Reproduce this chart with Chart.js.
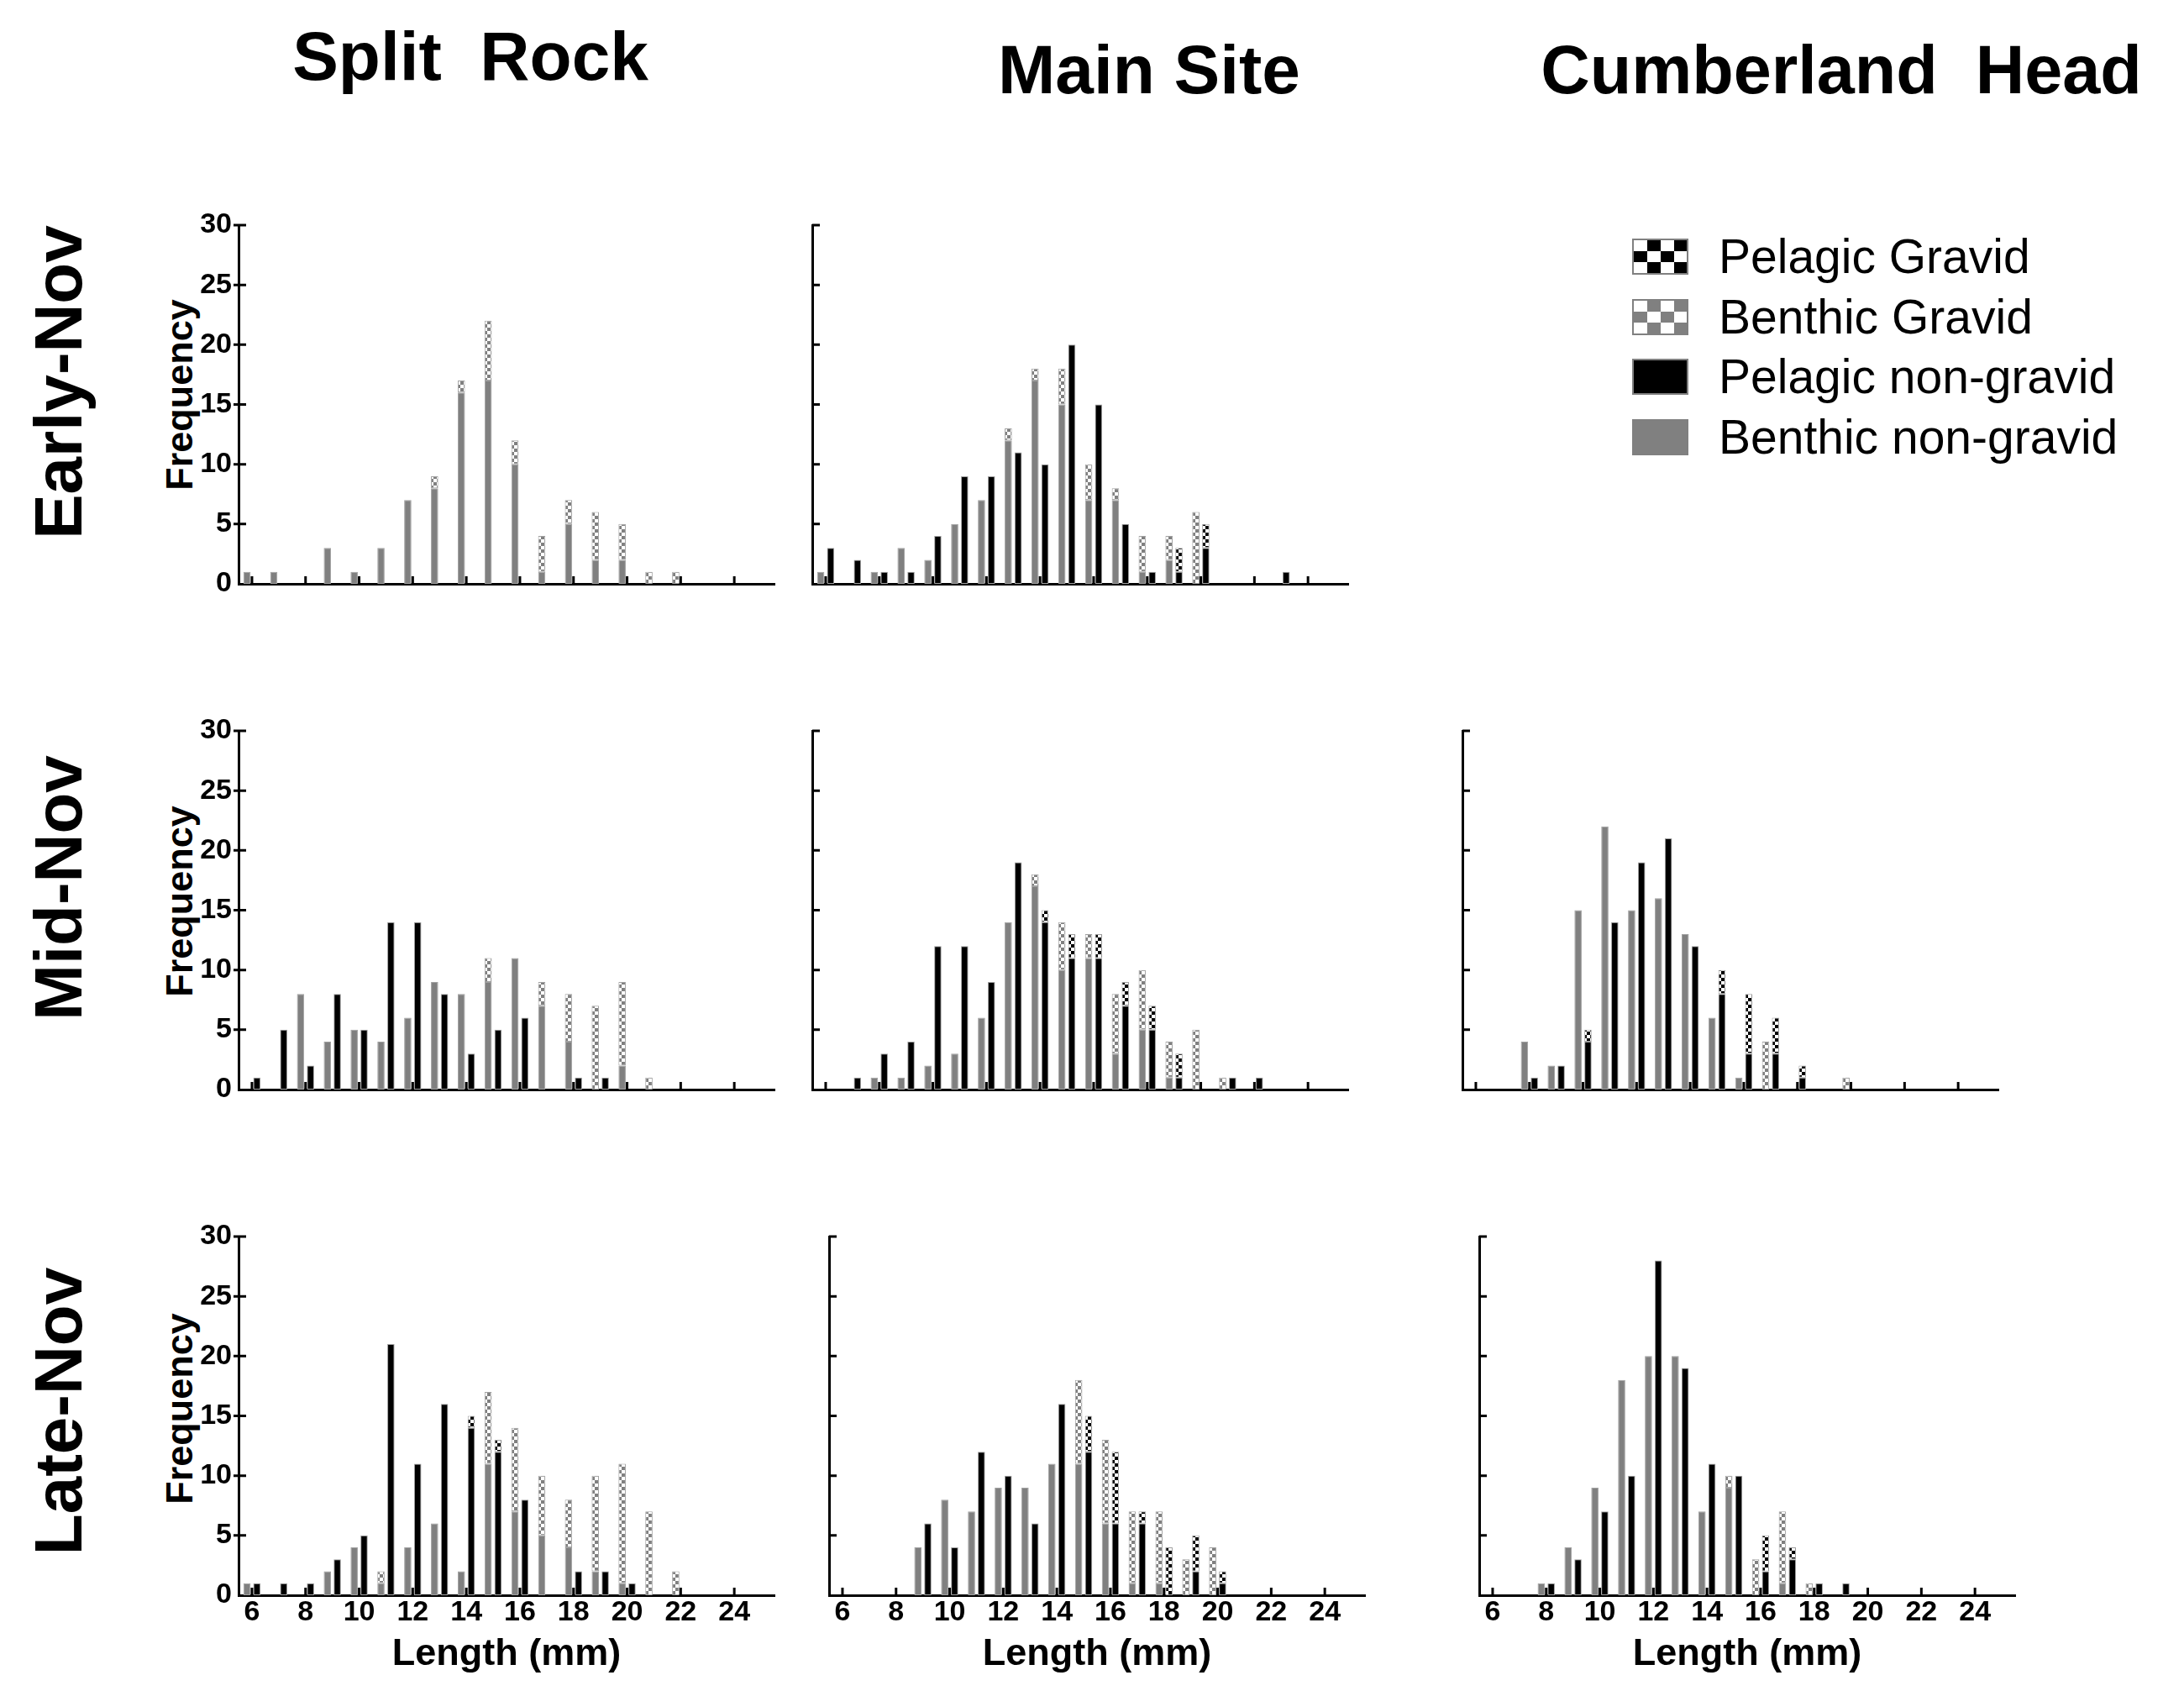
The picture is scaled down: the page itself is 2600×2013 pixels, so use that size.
<!DOCTYPE html>
<html>
<head>
<meta charset="utf-8">
<title>Length frequency by site and date</title>
<script src="https://cdn.jsdelivr.net/npm/chart.js"></script>
<style>
  body { margin:0; background:#fff; width:2600px; height:2013px; position:relative; overflow:hidden;
         font-family:"Liberation Sans", Arial, sans-serif; color:#000; }
  .panel { position:absolute; }
  .txt { position:absolute; transform:translate(-50%,-50%); white-space:pre; font-weight:bold; line-height:1; }
  .rot { transform:translate(-50%,-50%) rotate(-90deg); }
  .leg { position:absolute; left:1943px; height:43px; display:flex; align-items:center; }
  .leg .box { width:63px; height:39px; border:2px solid #808080; margin-right:36px; }
  .leg span { font-size:57px; line-height:1; white-space:nowrap; }
</style>
</head>
<body>

<div class="txt" style="left:560px; top:67px; font-size:82px;">Split  Rock</div>
<div class="txt" style="left:1368px; top:83px; font-size:82px;">Main Site</div>
<div class="txt" style="left:2192px; top:83px; font-size:81px;">Cumberland  Head</div>

<div class="txt rot" style="left:70px; top:455px; font-size:80px;">Early-Nov</div>
<div class="txt rot" style="left:70px; top:1057px; font-size:80px;">Mid-Nov</div>
<div class="txt rot" style="left:70px; top:1680px; font-size:80px;">Late-Nov</div>

<div class="txt rot" style="left:213px; top:470px; font-size:45px;">Frequency</div>
<div class="txt rot" style="left:213px; top:1073px; font-size:45px;">Frequency</div>
<div class="txt rot" style="left:213px; top:1677px; font-size:45px;">Frequency</div>

<div id="legend"></div>

<script>
// length bins (mm)
const lengths = ['6','7','8','9','10','11','12','13','14','15','16','17','18','19','20','21','22','23','24','25'];
const xTickLabels = ['6','8','10','12','14','16','18','20','22','24'];
const yTicks = [0,5,10,15,20,25,30];

// Split Rock
const srE_benNon = [1,1,0,3,1,3,7,8,16,17,10,1,5,2,2,0,0,0,0,0];
const srE_benGrav = [0,0,0,0,0,0,0,1,1,5,2,3,2,4,3,1,1,0,0,0];
const srE_pelNon = [0,0,0,0,0,0,0,0,0,0,0,0,0,0,0,0,0,0,0,0];
const srE_pelGrav = [0,0,0,0,0,0,0,0,0,0,0,0,0,0,0,0,0,0,0,0];

const srM_benNon = [0,0,8,4,5,4,6,9,8,9,11,7,4,0,2,0,0,0,0,0];
const srM_benGrav = [0,0,0,0,0,0,0,0,0,2,0,2,4,7,7,1,0,0,0,0];
const srM_pelNon = [1,5,2,8,5,14,14,8,3,5,6,0,1,1,0,0,0,0,0,0];
const srM_pelGrav = [0,0,0,0,0,0,0,0,0,0,0,0,0,0,0,0,0,0,0,0];

const srL_benNon = [1,0,0,2,4,1,4,6,2,11,7,5,4,2,1,0,0,0,0,0];
const srL_benGrav = [0,0,0,0,0,1,0,0,0,6,7,5,4,8,10,7,2,0,0,0];
const srL_pelNon = [1,1,1,3,5,21,11,16,14,12,8,0,2,2,1,0,0,0,0,0];
const srL_pelGrav = [0,0,0,0,0,0,0,0,1,1,0,0,0,0,0,0,0,0,0,0];

// Main Site
const msE_benNon = [1,0,1,3,2,5,7,12,17,15,7,7,1,2,0,0,0,0,0,0];
const msE_benGrav = [0,0,0,0,0,0,0,1,1,3,3,1,3,2,6,0,0,0,0,0];
const msE_pelNon = [3,2,1,1,4,9,9,11,10,20,15,5,1,1,3,0,0,1,0,0];
const msE_pelGrav = [0,0,0,0,0,0,0,0,0,0,0,0,0,2,2,0,0,0,0,0];

const msM_benNon = [0,0,1,1,2,3,6,14,17,10,11,3,5,1,0,0,0,0,0,0];
const msM_benGrav = [0,0,0,0,0,0,0,0,1,4,2,5,5,3,5,1,0,0,0,0];
const msM_pelNon = [0,1,3,4,12,12,9,19,14,11,11,7,5,1,0,1,1,0,0,0];
const msM_pelGrav = [0,0,0,0,0,0,0,0,1,2,2,2,2,2,0,0,0,0,0,0];

const msL_benNon = [0,0,0,4,8,7,9,9,11,11,6,1,1,0,0,0,0,0,0,0];
const msL_benGrav = [0,0,0,0,0,0,0,0,0,7,7,6,6,3,4,0,0,0,0,0];
const msL_pelNon = [0,0,0,6,4,12,10,6,16,12,6,6,0,2,1,0,0,0,0,0];
const msL_pelGrav = [0,0,0,0,0,0,0,0,0,3,6,1,4,3,1,0,0,0,0,0];

// Cumberland Head
const chM_benNon = [0,0,4,2,15,22,15,16,13,6,1,0,0,0,0,0,0,0,0,0];
const chM_benGrav = [0,0,0,0,0,0,0,0,0,0,0,4,0,0,1,0,0,0,0,0];
const chM_pelNon = [0,0,1,2,4,14,19,21,12,8,3,3,1,0,0,0,0,0,0,0];
const chM_pelGrav = [0,0,0,0,1,0,0,0,0,2,5,3,1,0,0,0,0,0,0,0];

const chL_benNon = [0,0,1,4,9,18,20,20,7,9,0,1,0,0,0,0,0,0,0,0];
const chL_benGrav = [0,0,0,0,0,0,0,0,0,1,3,6,1,0,0,0,0,0,0,0];
const chL_pelNon = [0,0,1,3,7,10,28,19,11,10,2,3,1,1,0,0,0,0,0,0];
const chL_pelGrav = [0,0,0,0,0,0,0,0,0,0,3,1,0,0,0,0,0,0,0,0];

const seriesNames = ['Pelagic Gravid','Benthic Gravid','Pelagic non-gravid','Benthic non-gravid'];

// panel placement: plot area left/top in page pixels
const PW = 638, PH = 427, L = 80, T = 30, R = 24;
const panels = [
  {left:284, top:268, first:true,  bottom:false, s:[srE_benNon, srE_benGrav, srE_pelNon, srE_pelGrav]},
  {left:967, top:268, first:false, bottom:false, s:[msE_benNon, msE_benGrav, msE_pelNon, msE_pelGrav]},
  {left:284, top:870, first:true,  bottom:false, s:[srM_benNon, srM_benGrav, srM_pelNon, srM_pelGrav]},
  {left:967, top:870, first:false, bottom:false, s:[msM_benNon, msM_benGrav, msM_pelNon, msM_pelGrav]},
  {left:1741, top:870, first:false, bottom:false, s:[chM_benNon, chM_benGrav, chM_pelNon, chM_pelGrav]},
  {left:284, top:1472, first:true,  bottom:true, s:[srL_benNon, srL_benGrav, srL_pelNon, srL_pelGrav]},
  {left:987, top:1472, first:false, bottom:true, s:[msL_benNon, msL_benGrav, msL_pelNon, msL_pelGrav]},
  {left:1761, top:1472, first:false, bottom:true, s:[chL_benNon, chL_benGrav, chL_pelNon, chL_pelGrav]}
];

function checker(dark, sz) {
  const c = document.createElement('canvas');
  c.width = c.height = sz * 2;
  const g = c.getContext('2d');
  g.fillStyle = '#fff';
  g.fillRect(0, 0, sz * 2, sz * 2);
  g.fillStyle = dark;
  g.fillRect(0, 0, sz, sz);
  g.fillRect(sz, sz, sz, sz);
  return g.createPattern(c, 'repeat');
}
const pelCheck = checker('#000', 4);
const benCheck = checker('#808080', 4);
const nz = a => a.map(v => v === 0 ? null : v);

// small inward tick marks like the original
const innerTicks = {
  id: 'innerTicks',
  afterDraw(chart) {
    const x = chart.scales.x, y = chart.scales.y, ctx = chart.ctx;
    ctx.save();
    ctx.strokeStyle = '#000';
    ctx.lineWidth = 3;
    ctx.beginPath();
    xTickLabels.forEach(l => {
      const px = x.getPixelForValue(lengths.indexOf(l));
      ctx.moveTo(px, y.bottom);
      ctx.lineTo(px, y.bottom - 9);
    });
    yTicks.forEach(v => {
      if (v === 0) return;
      const py = y.getPixelForValue(v);
      ctx.moveTo(x.left - (chart.options.plugins.innerTicks.out ? 6 : 0), py);
      ctx.lineTo(x.left + 9, py);
    });
    ctx.stroke();
    ctx.restore();
  }
};

const font = 'Liberation Sans, Arial, sans-serif';

panels.forEach(p => {
  const H = p.bottom ? 102 : 30;
  const wrap = document.createElement('div');
  wrap.className = 'panel';
  wrap.style.left = (p.left - L) + 'px';
  wrap.style.top = (p.top - T) + 'px';
  wrap.style.width = (PW + L + R) + 'px';
  wrap.style.height = (PH + T + H) + 'px';
  const cv = document.createElement('canvas');
  wrap.appendChild(cv);
  document.body.appendChild(wrap);

  const bar = {borderColor:'#a0a0a0', borderWidth:1, borderSkipped:false,
               categoryPercentage:0.74, barPercentage:0.73};
  new Chart(cv, {
    type: 'bar',
    data: {
      labels: lengths,
      datasets: [
        Object.assign({label:seriesNames[3], data:nz(p.s[0]), backgroundColor:'#808080', stack:'benthic'}, bar),
        Object.assign({label:seriesNames[1], data:nz(p.s[1]), backgroundColor:benCheck, stack:'benthic'}, bar),
        Object.assign({label:seriesNames[2], data:nz(p.s[2]), backgroundColor:'#000', stack:'pelagic'}, bar),
        Object.assign({label:seriesNames[0], data:nz(p.s[3]), backgroundColor:pelCheck, stack:'pelagic'}, bar)
      ]
    },
    options: {
      responsive: true,
      maintainAspectRatio: false,
      animation: false,
      layout: {padding: {left:0, top:T, right:R, bottom:0}},
      plugins: {legend:{display:false}, tooltip:{enabled:false}, innerTicks:{out:p.first}},
      scales: {
        x: {
          stacked: true,
          grid: {display:false, drawTicks:false},
          border: {display:true, color:'#000', width:3},
          ticks: {
            display: p.bottom,
            autoSkip: false, maxRotation: 0, padding: 0, color:'#000',
            font: {family:font, size:34, weight:'bold'},
            callback: function(v) { const l = this.getLabelForValue(v); return xTickLabels.includes(l) ? l : ''; }
          },
          title: {display:p.bottom, text:'Length (mm)', color:'#000',
                  font:{family:font, size:45, weight:'bold'}, padding:{top:4, bottom:4}},
          afterFit: s => { s.height = H; }
        },
        y: {
          stacked: true,
          min: 0, max: 30,
          grid: {display:false, drawTicks:false},
          border: {display:true, color:'#000', width:3},
          ticks: {display:p.first, stepSize:5, padding:8, color:'#000',
                  font:{family:font, size:34, weight:'bold'}},
          afterFit: s => { s.width = L; }
        }
      }
    },
    plugins: [innerTicks]
  });
});

// legend (top right, in the empty Cumberland Head early slot)
const legFills = [
  'repeating-conic-gradient(#000 0 25%, #fff 0 50%) 0 0 / 32px 26px',
  'repeating-conic-gradient(#808080 0 25%, #fff 0 50%) 0 0 / 32px 26px',
  '#000',
  '#808080'
];
const legTops = [284, 356, 427, 499];
const legend = document.getElementById('legend');
seriesNames.forEach((n, i) => {
  const row = document.createElement('div');
  row.className = 'leg';
  row.style.top = legTops[i] + 'px';
  const b = document.createElement('div');
  b.className = 'box';
  b.style.background = legFills[i];
  const t = document.createElement('span');
  t.textContent = n;
  row.appendChild(b);
  row.appendChild(t);
  legend.appendChild(row);
});
</script>
</body>
</html>
